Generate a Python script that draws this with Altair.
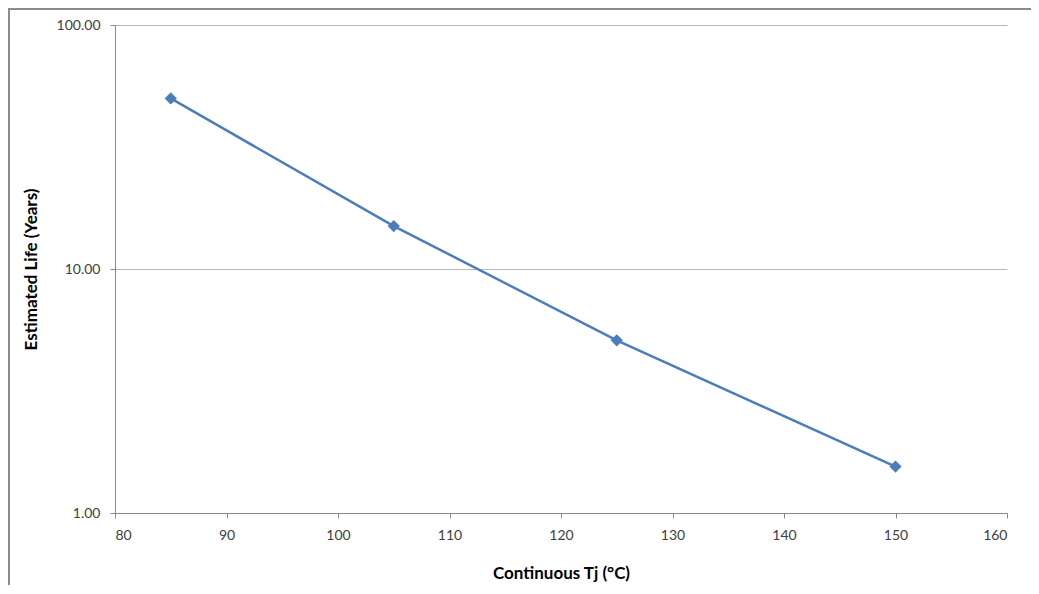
import altair as alt
import pandas as pd

temps = [85, 105, 125, 150]
life_years = [50.0, 15.0, 5.1, 1.55]

df = pd.DataFrame({"Tj": temps, "Life": life_years})

FONT = "Lato"
W, H = 892, 488

x_enc = alt.X("Tj:Q", scale=alt.Scale(domain=[80, 160], nice=False, zero=False),
              axis=alt.Axis(title="Continuous Tj (°C)", values=list(range(80, 161, 10)),
                            grid=False, tickSize=5, labelPadding=10,
                            titlePadding=23))
y_enc = alt.Y("Life:Q", scale=alt.Scale(type="log", domain=[1, 100], nice=False),
              axis=alt.Axis(title="Estimated Life (Years)", values=[1, 10, 100],
                            format=".2f", grid=True, tickSize=5, labelPadding=10,
                            titlePadding=16))

line = alt.Chart(df).mark_line(color="#4a7ebb", strokeWidth=2.5).encode(x=x_enc, y=y_enc)
pts = alt.Chart(df).mark_point(shape="diamond", filled=True, size=150, opacity=1,
                               color="#4a7ebb").encode(x="Tj:Q", y="Life:Q")

border = alt.Chart(df).mark_rule(color="#8c8c8c", strokeWidth=2).encode(
    x=alt.value(-107), x2=alt.value(W + 40), y=alt.value(-16), y2=alt.value(-16))
border_l = alt.Chart(df).mark_rule(color="#8c8c8c", strokeWidth=2).encode(
    x=alt.value(-106), x2=alt.value(-106), y=alt.value(-17), y2=alt.value(H + 90))

chart = alt.layer(border, border_l, line, pts).properties(
    width=W, height=H,
    autosize=alt.AutoSizeParams(type="none"),
    padding={"left": 107, "top": 17, "right": 24, "bottom": 72},
).configure_view(stroke=None).configure_axis(
    domainColor="#888888", tickColor="#888888", gridColor="#b8b8b8",
    labelFont=FONT, titleFont=FONT, labelFontSize=14, labelColor="#404040",
    titleFontSize=17, titleFontWeight="bold", titleColor="#000000",
)

chart.save("out.html", embed_options={"renderer": "svg", "actions": False})
